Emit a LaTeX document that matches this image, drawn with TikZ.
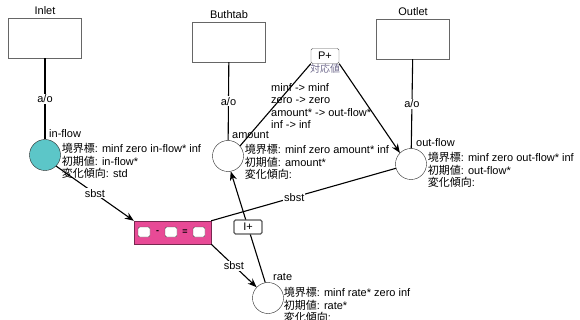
\documentclass[tikz,border=0pt]{standalone}
\usepackage{fontspec}
\setmainfont{Liberation Sans}
\newfontfamily\jp{Noto Sans CJK JP}
\usetikzlibrary{arrows.meta}
\definecolor{flowteal}{RGB}{92,198,200}
\definecolor{calcpink}{RGB}{232,74,150}
\definecolor{calcedge}{RGB}{120,40,80}
\definecolor{tagcol}{RGB}{110,105,140}

\begin{document}
\begin{tikzpicture}[x=1pt,y=-1pt,>={Stealth[length=9pt,width=7pt]},
  ent/.style={draw=gray!80!black,fill=white,minimum width=73pt,minimum height=40pt,inner sep=0pt},
  qty/.style={draw=gray!30!black,circle,minimum size=31pt,inner sep=0pt},
  qname/.style={anchor=south west,inner sep=1pt,font=\fontsize{11}{12}\selectfont},
  info/.style={anchor=north west,align=left,inner sep=0pt,font=\fontsize{11}{12.6}\selectfont},
  lbl/.style={fill=white,inner sep=1pt,font=\fontsize{11}{12}\selectfont},
  tagbox/.style={draw=gray!70!black,fill=white,rounded corners=1.5pt,minimum width=28pt,minimum height=15pt,inner sep=0pt,font=\fontsize{11}{12}\selectfont},
  slot/.style={draw=gray!60!black,fill=white,rounded corners=1.5pt,minimum width=12pt,minimum height=10pt,inner sep=0pt},
  link/.style={line width=1.1pt}]
  \useasboundingbox (0,0) rectangle (580,320);
  % entities
  \node[ent,label={[font=\fontsize{11}{12}\selectfont]above:Inlet}] (inlet) at (45,38) {};
  \node[ent,label={[font=\fontsize{11}{12}\selectfont]above:Buthtab}] (bath) at (229,42) {};
  \node[ent,label={[font=\fontsize{11}{12}\selectfont]above:Outlet}] (outlet) at (413,39) {};
  % quantities
  \node[qty,fill=flowteal] (inflow) at (45,155) {};
  \node[qty,fill=white] (amount) at (228,156) {};
  \node[qty,fill=white] (outflow) at (411,164) {};
  \node[qty,fill=white] (rate) at (268,298) {};
  % P+ correspondence
  \node[tagbox,label={[text=tagcol,inner sep=0pt,font=\jp\fontsize{10}{11}\selectfont]below:対応値}] (pplus) at (325,56) {P+};
  % calculator
  \node[draw=calcedge,fill=calcpink,minimum width=77pt,minimum height=23pt,inner sep=0pt] (calc) at (172.5,232.5) {};
  \node[slot] (s1) at (144,232) {};
  \node[slot] (s2) at (171,232) {};
  \node[slot] (s3) at (199,232) {};
  \node[font=\bfseries\small] (minus) at (157.5,232) {-};
  \node[font=\bfseries\small] (equal) at (185,232) {=};
  % a/o links
  \draw[link] (inlet) -- node[lbl]{a/o} (inflow);
  \draw[link] (bath) -- node[lbl]{a/o} (amount);
  \draw[link] (outlet) -- node[lbl]{a/o} (outflow);
  % sbst links
  \draw[link,->] (inflow.-45) -- node[lbl]{sbst} (calc.north west);
  \draw[link] (calc.north east) -- node[lbl,pos=0.45]{sbst} (outflow);
  \draw[link,->] (calc.south east) -- node[lbl]{sbst} (rate);
  % influence and proportionality
  \draw[link,->] (rate.100) -- node[tagbox,minimum height=14pt]{I+} (amount.-80);
  \draw[link] (pplus.south west) -- (amount.40);
  \draw[link,->] (pplus.south east) -- (outflow.135);
  % correspondence values
  \node[info] (corr) at (271,83) {minf -> minf\\zero -> zero\\amount* -> out-flow*\\inf -> inf};
  % quantity names
  \node[qname] (n1) at ([xshift=3pt]inflow.north) {in-flow};
  \node[qname] (n2) at ([xshift=3pt]amount.north) {amount};
  \node[qname] (n3) at ([xshift=4pt]outflow.north) {out-flow};
  \node[qname] (n4) at ([xshift=4pt]rate.north) {rate};
  % quantity spaces
  \node[info] (q1) at ([xshift=1pt,yshift=12pt]inflow.east) {{\jp 境界標}: minf zero in-flow* inf\\{\jp 初期値}: in-flow*\\{\jp 変化傾向}: std};
  \node[info] (q2) at ([xshift=1pt,yshift=12pt]amount.east) {{\jp 境界標}: minf zero amount* inf\\{\jp 初期値}: amount*\\{\jp 変化傾向}:};
  \node[info] (q3) at ([xshift=1pt,yshift=12pt]outflow.east) {{\jp 境界標}: minf zero out-flow* inf\\{\jp 初期値}: out-flow*\\{\jp 変化傾向}:};
  \node[info] (q4) at ([xshift=0pt,yshift=11pt]rate.east) {{\jp 境界標}: minf rate* zero inf\\{\jp 初期値}: rate*\\{\jp 変化傾向}:};
\end{tikzpicture}
\end{document}
